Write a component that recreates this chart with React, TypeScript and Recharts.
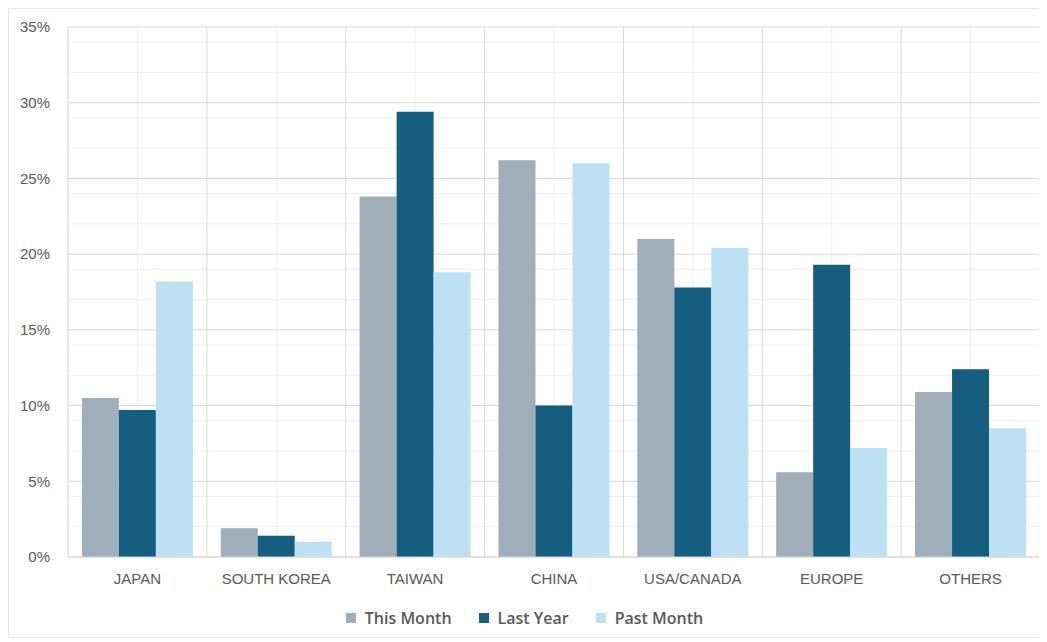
import React from "react";
import { Bar, BarChart, CartesianGrid, Legend, XAxis, YAxis } from "recharts";

const regions = ["JAPAN", "SOUTH KOREA", "TAIWAN", "CHINA", "USA/CANADA", "EUROPE", "OTHERS"];
const thisMonth = [10.5, 1.9, 23.8, 26.2, 21.0, 5.6, 10.9];
const lastYear = [9.7, 1.4, 29.4, 10.0, 17.8, 19.3, 12.4];
const pastMonth = [18.2, 1.0, 18.8, 26.0, 20.4, 7.2, 8.5];
const majorTicks = [0, 5, 10, 15, 20, 25, 30, 35];
const minorTicks = [1, 2, 3, 4, 6, 7, 8, 9, 11, 12, 13, 14, 16, 17, 18, 19, 21, 22, 23, 24, 26, 27, 28, 29, 31, 32, 33, 34];

const seriesKeys = ["thisMonth", "lastYear", "pastMonth"];
const seriesNames = ["This Month", "Last Year", "Past Month"];
const seriesColors = ["#a0aeb9", "#155e7f", "#bde1f3"];

const rows = regions.map((region, i) => ({
  region,
  thisMonth: thisMonth[i],
  lastYear: lastYear[i],
  pastMonth: pastMonth[i],
}));

const tickStyle = { fontSize: 15, fill: "#595959", fontFamily: "Liberation Sans, Arial, sans-serif" };

function LegendBox() {
  return (
    <div
      style={{
        display: "flex",
        justifyContent: "center",
        gap: 27,
        paddingTop: 10,
        fontFamily: "Open Sans, sans-serif",
        fontSize: 16,
        fontWeight: 600,
        color: "#595959",
      }}
    >
      {seriesNames.map((name, i) => (
        <div key={name} style={{ display: "flex", alignItems: "center" }}>
          <span style={{ width: 10, height: 10, background: seriesColors[i], marginRight: 9 }} />
          <span>{name}</span>
        </div>
      ))}
    </div>
  );
}

function App() {
  return (
    <div style={{ width: 1035, height: 628, border: "1px solid #e6e6e6" }}>
      <BarChart
        width={1035}
        height={628}
        data={rows}
        margin={{ top: 18, right: 4, bottom: 0, left: 0 }}
        barCategoryGap="10%"
        barGap={0}
      >
        <CartesianGrid stroke="#efefef" horizontalValues={minorTicks} />
        <CartesianGrid
          stroke="#d9d9d9"
          verticalCoordinatesGenerator={({ offset }: any) =>
            regions.map((_, i) => offset.left + (i * offset.width) / regions.length).concat(offset.left + offset.width)
          }
        />
        <XAxis
          dataKey="region"
          axisLine={{ stroke: "#d9d9d9" }}
          tickLine={false}
          tickSize={0}
          tickMargin={16}
          height={40}
          tick={tickStyle}
        />
        <YAxis
          width={59}
          domain={[0, 35]}
          ticks={majorTicks}
          tickFormatter={(v: number) => `${v}%`}
          axisLine={false}
          tickLine={false}
          tickSize={0}
          tickMargin={18}
          tick={tickStyle}
        />
        <Legend verticalAlign="bottom" height={40} content={() => <LegendBox />} />
        {seriesKeys.map((key, i) => (
          <Bar key={key} dataKey={key} name={seriesNames[i]} fill={seriesColors[i]} isAnimationActive={false} />
        ))}
      </BarChart>
    </div>
  );
}

export default App;
